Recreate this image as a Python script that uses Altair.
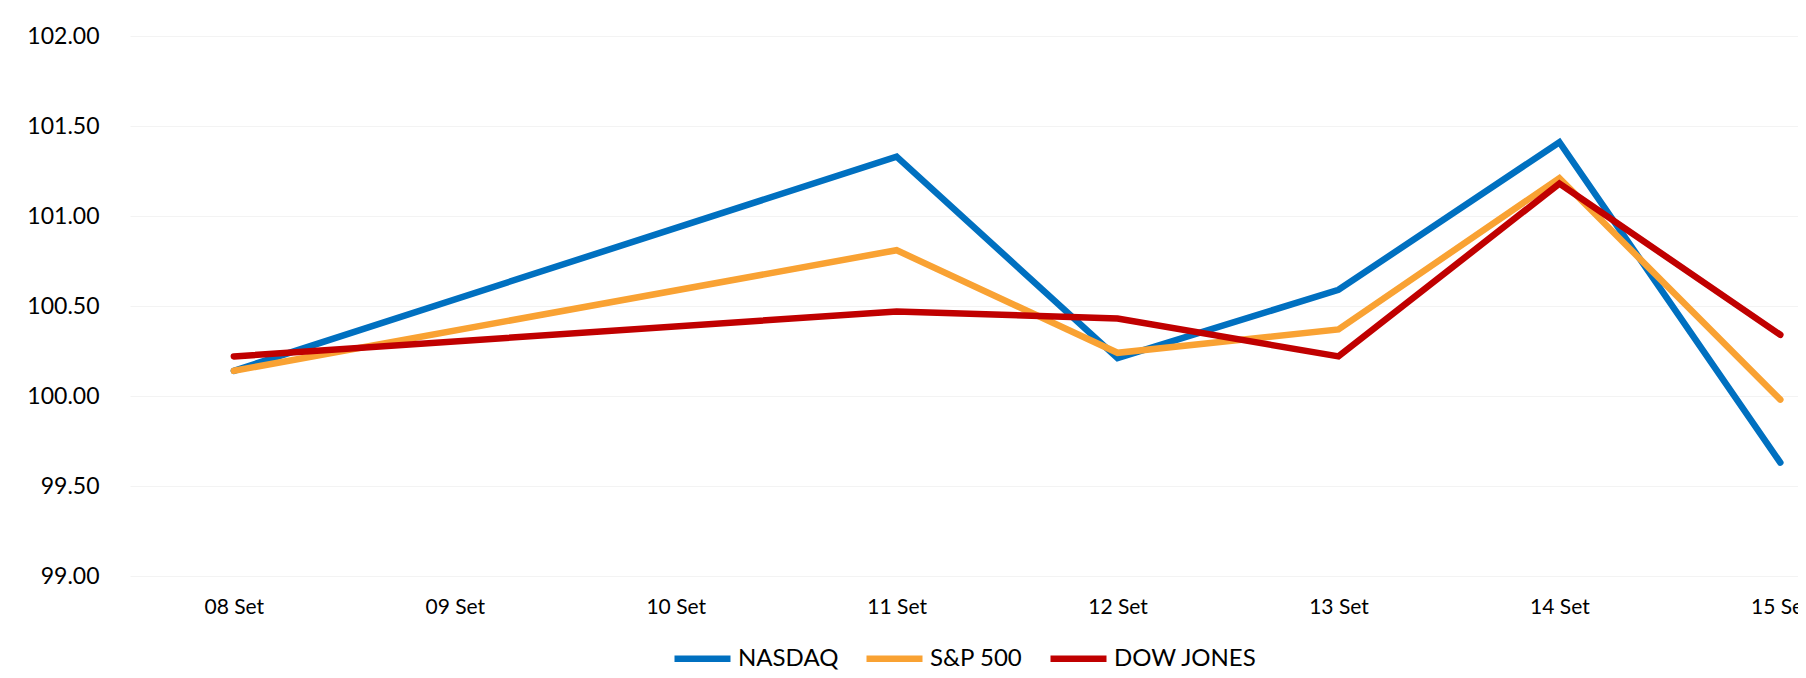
import altair as alt
import pandas as pd

days = [8, 11, 12, 13, 14, 15]
tick_days = [8, 9, 10, 11, 12, 13, 14, 15]
series_names = ["NASDAQ", "S&P 500", "DOW JONES"]
nasdaq = [100.14, 101.33, 100.21, 100.59, 101.41, 99.63]
sp500 = [100.14, 100.81, 100.24, 100.37, 101.21, 99.98]
dow = [100.22, 100.47, 100.43, 100.22, 101.18, 100.34]
colors = ["#0070C0", "#F9A233", "#C00000"]
y_ticks = [99.0, 99.5, 100.0, 100.5, 101.0, 101.5, 102.0]

rows = []
for name, vals in zip(series_names, [nasdaq, sp500, dow]):
    for i, (d, v) in enumerate(zip(days, vals)):
        rows.append({"series": name, "day": d, "value": v, "order": i})
df = pd.DataFrame(rows)

FONT = "Lato"

chart = alt.Chart(df).mark_line(strokeWidth=6.5, strokeCap="round", strokeJoin="miter").encode(
    x=alt.X("day:Q",
            scale=alt.Scale(domain=[7.53, 15.08], nice=False, zero=False),
            axis=alt.Axis(values=tick_days, title=None, grid=False, domain=False,
                          ticks=False, tickSize=0, labelPadding=20,
                          labelExpr="(datum.value < 10 ? '0' : '') + datum.value + ' Set'",
                          labelFont=FONT, labelFontSize=21, labelColor="#000000",
                          labelFlush=False, labelOverlap=False)),
    y=alt.Y("value:Q",
            scale=alt.Scale(domain=[99, 102], nice=False, zero=False),
            axis=alt.Axis(values=y_ticks, title=None, format=".2f", grid=True,
                          gridColor="#F3F3F3", gridWidth=1, domain=False,
                          ticks=False, tickSize=0, labelPadding=31,
                          labelFont=FONT, labelFontSize=23, labelColor="#000000")),
    color=alt.Color("series:N",
                    scale=alt.Scale(domain=series_names, range=colors),
                    sort=series_names,
                    legend=alt.Legend(title=None, orient="none", direction="horizontal",
                                      legendX=541, legendY=591,
                                      symbolType="stroke", symbolSize=3136,
                                      symbolStrokeWidth=6.5, labelOffset=4,
                                      columnPadding=14, labelFont=FONT,
                                      labelFontSize=24, labelColor="#000000")),
    order=alt.Order("order:Q"),
).properties(
    width=1668,
    height=540,
    background="#FFFFFF",
    padding={"left": 122, "top": 28, "right": 0, "bottom": 94},
    autosize=alt.AutoSizeParams(type="none"),
).configure_view(stroke=None)

chart.save("out.html", embed_options={"renderer": "svg", "actions": False})
